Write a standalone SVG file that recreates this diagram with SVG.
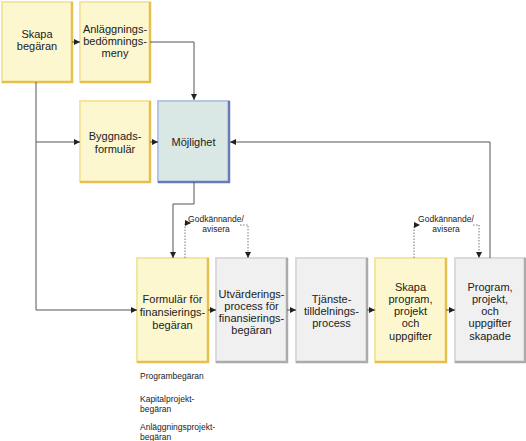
<svg xmlns="http://www.w3.org/2000/svg" width="526" height="441" viewBox="0 0 526 441">
<defs>
<marker id="ah" viewBox="0 0 6 6" refX="6" refY="3" markerWidth="6" markerHeight="6" markerUnits="userSpaceOnUse" orient="auto">
<path d="M0,0 L6,3 L0,6 z" fill="#222"/>
</marker>
<style>
text{font-family:"Liberation Sans",Arial,sans-serif;fill:#222}
.t{font-size:11px;text-anchor:middle}
.s{font-size:8.5px}
.ys{fill:#fcf7cf;stroke:#f3e6a0;stroke-width:2}
.yd{fill:none;stroke:#e6c04e;stroke-width:2.5}
.bs{fill:#d9e8e5;stroke:#b4c6e2;stroke-width:2}
.bd{fill:none;stroke:#6c79b9;stroke-width:2.5}
.gs{fill:#f0f0f0;stroke:#dadada;stroke-width:2}
.gd{fill:none;stroke:#ababab;stroke-width:2.5}
.c{fill:none;stroke:#555;stroke-width:1}
.d{fill:none;stroke:#777;stroke-width:1;stroke-dasharray:1.5,1.5}
</style>
</defs>
<g id="n-skapa">
<rect class="ys" x="2" y="2" width="70" height="80"/><path class="yd" d="M72,2 V82 H2"/>
<text class="t" x="37" y="38">Skapa</text><text class="t" x="37" y="50">begäran</text>
</g>
<g id="n-anlagg">
<rect class="ys" x="80" y="2" width="70" height="80"/><path class="yd" d="M150,2 V82 H80"/>
<text class="t" x="115" y="33">Anläggnings-</text><text class="t" x="115" y="45">bedömnings-</text><text class="t" x="115" y="57">meny</text>
</g>
<g id="n-bygg">
<rect class="ys" x="80" y="101" width="70" height="81"/><path class="yd" d="M150,101 V182 H80"/>
<text class="t" x="115" y="140">Byggnads-</text><text class="t" x="115" y="153">formulär</text>
</g>
<g id="n-moj">
<rect class="bs" x="158" y="101" width="71" height="81"/><path class="bd" d="M229,101 V182 H158"/>
<text class="t" x="193.5" y="146">Möjlighet</text>
</g>
<g id="n-form">
<rect class="ys" x="137" y="258" width="71" height="104"/><path class="yd" d="M208,258 V362 H137"/>
<text class="t" x="172.5" y="303">Formulär för</text><text class="t" x="172.5" y="316">finansierings-</text><text class="t" x="172.5" y="329">begäran</text>
</g>
<g id="n-utv">
<rect class="gs" x="216" y="258" width="71" height="104"/><path class="gd" d="M287,258 V362 H216"/>
<text class="t" x="251.5" y="298">Utvärderings-</text><text class="t" x="251.5" y="310">process för</text><text class="t" x="251.5" y="322">finansierings-</text><text class="t" x="251.5" y="334">begäran</text>
</g>
<g id="n-tjan">
<rect class="gs" x="296" y="258" width="71" height="104"/><path class="gd" d="M367,258 V362 H296"/>
<text class="t" x="331.5" y="303">Tjänste-</text><text class="t" x="331.5" y="315">tilldelnings-</text><text class="t" x="331.5" y="327">process</text>
</g>
<g id="n-skprog">
<rect class="ys" x="375" y="258" width="71" height="104"/><path class="yd" d="M446,258 V362 H375"/>
<text class="t" x="410.5" y="291">Skapa</text><text class="t" x="410.5" y="303">program,</text><text class="t" x="410.5" y="315">projekt</text><text class="t" x="410.5" y="327">och</text><text class="t" x="410.5" y="340">uppgifter</text>
</g>
<g id="n-prog">
<rect class="gs" x="455" y="258" width="70" height="104"/><path class="gd" d="M525,258 V362 H455"/>
<text class="t" x="490" y="291">Program,</text><text class="t" x="490" y="303">projekt,</text><text class="t" x="490" y="315">och</text><text class="t" x="490" y="327">uppgifter</text><text class="t" x="490" y="340">skapade</text>
</g>
<g id="connectors">
<path class="c" d="M72,42 H80" marker-end="url(#ah)"/>
<path class="c" d="M150,42 H194 V100" marker-end="url(#ah)"/>
<path class="c" d="M36,82 V310 H137" marker-end="url(#ah)"/>
<path class="c" d="M36,142 H80" marker-end="url(#ah)"/>
<path class="c" d="M150,142 H158" marker-end="url(#ah)"/>
<path class="c" d="M194,182 V204 H173 V258" marker-end="url(#ah)"/>
<path class="c" d="M208,310 H216" marker-end="url(#ah)"/>
<path class="c" d="M287,310 H296" marker-end="url(#ah)"/>
<path class="c" d="M367,310 H375" marker-end="url(#ah)"/>
<path class="c" d="M446,310 H455" marker-end="url(#ah)"/>
<path class="c" d="M490,258 V142 H230" marker-end="url(#ah)"/>
<path class="d" d="M185,258 V223 H191" marker-end="url(#ah)"/>
<path class="d" d="M240,225 H248 V258" marker-end="url(#ah)"/>
<path class="d" d="M414,258 V225 H420" marker-end="url(#ah)"/>
<path class="d" d="M473,225 H479 V258" marker-end="url(#ah)"/>
</g>
<g id="labels">
<text class="s" x="216" y="222" text-anchor="middle">Godkännande/</text>
<text class="s" x="216" y="232" text-anchor="middle">avisera</text>
<text class="s" x="446" y="222" text-anchor="middle">Godkännande/</text>
<text class="s" x="446" y="232" text-anchor="middle">avisera</text>
<text class="s" x="140" y="379">Programbegäran</text>
<text class="s" x="140" y="402">Kapitalprojekt-</text>
<text class="s" x="140" y="412">begäran</text>
<text class="s" x="140" y="430">Anläggningsprojekt-</text>
<text class="s" x="140" y="440">begäran</text>
</g>
</svg>
